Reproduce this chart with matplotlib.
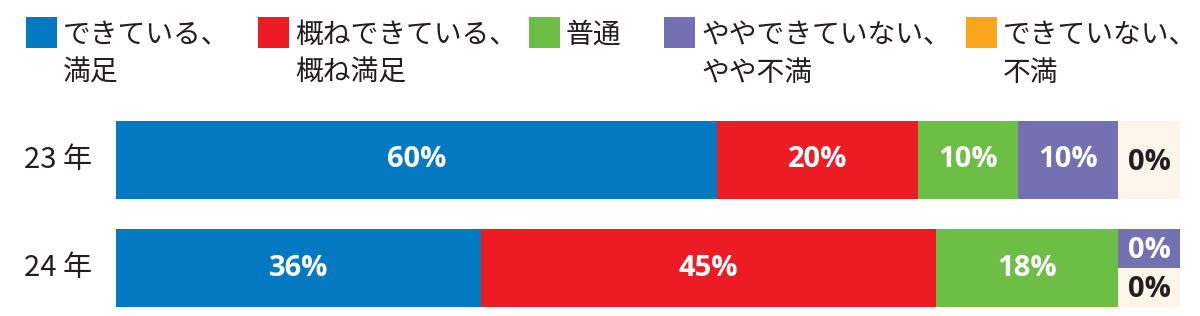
import matplotlib

matplotlib.use("Agg")
import matplotlib.pyplot as plt
from matplotlib.patches import Rectangle

plt.rcParams["font.family"] = ["Noto Sans CJK JP", "DejaVu Sans"]

years = ["23 年", "24 年"]
categories = [
    "できている、\n満足",
    "概ねできている、\n概ね満足",
    "普通",
    "ややできていない、\nやや不満",
    "できていない、\n不満",
]
values_23 = [60.0, 20.0, 10.0, 10.0, 0.0]
values_24 = [36.4, 45.4, 18.2, 0.0, 0.0]
rows = [values_23, values_24]

colors = ["#0279C1", "#ED1C24", "#6DBE45", "#7470B2", "#F9A51B"]
# zero-valued segments are shown in a side box; "できていない" uses a cream tint
zero_colors = ["#0279C1", "#ED1C24", "#6DBE45", "#7470B2", "#FEF5EA"]
zero_text = ["white", "white", "white", "white", "#231F20"]

W, H = 1200, 316
fig = plt.figure(figsize=(W / 100, H / 100), dpi=100)

# main bar axes, placed in pixel terms
ax_left, ax_right, ax_top, ax_bottom = 116, 1180, 121, 307
ax = fig.add_axes([ax_left / W, (H - ax_bottom) / H, (ax_right - ax_left) / W, (ax_bottom - ax_top) / H])
bar_h = 0.722
zero_w = 6.2
ax.set_xlim(0, 100 + zero_w)
ax.set_ylim(1 + bar_h / 2, -bar_h / 2)
ax.axis("off")

pct_font = dict(family=["Open Sans", "DejaVu Sans"], fontweight="bold")

for yi, vals in enumerate(rows):
    left = 0.0
    for ci, v in enumerate(vals):
        if v <= 0:
            continue
        ax.barh(yi, v, left=left, height=bar_h, color=colors[ci], edgecolor="none")
        ax.text(left + v / 2, yi, f"{round(v):d}%", ha="center", va="center",
                color="white", fontsize=21, **pct_font)
        left += v
    zeros = [ci for ci, v in enumerate(vals) if v <= 0]
    if zeros:
        sub_h = bar_h / len(zeros)
        top = yi - bar_h / 2
        for k, ci in enumerate(zeros):
            yc = top + sub_h * (k + 0.5)
            ax.barh(yc, zero_w, left=left, height=sub_h, color=zero_colors[ci], edgecolor="none")
            ax.text(left + zero_w / 2, yc + 0.02, "0%", ha="center", va="center",
                    color=zero_text[ci], fontsize=21, **pct_font)
    fig.text(92 / W, 1 - (ax_top + (ax_bottom - ax_top) * (yi + bar_h / 2) / (1 + bar_h)) / H,
             years[yi], ha="right", va="center", fontsize=21, color="#231F20")

# legend drawn on an overlay axes in pixel coordinates
lg = fig.add_axes([0, 0, 1, 1])
lg.set_xlim(0, W)
lg.set_ylim(H, 0)
lg.axis("off")
legend_x = [26, 258, 529, 664, 966]
sq = 31
for ci, lab in enumerate(categories):
    x = legend_x[ci]
    lg.add_patch(Rectangle((x, 17), sq, sq, facecolor=colors[ci], edgecolor="none"))
    lg.text(x + sq + 6, 20, lab, ha="left", va="top", fontsize=20,
            color="#231F20", linespacing=1.34)

fig.savefig("out.png", dpi=100, facecolor="white")
